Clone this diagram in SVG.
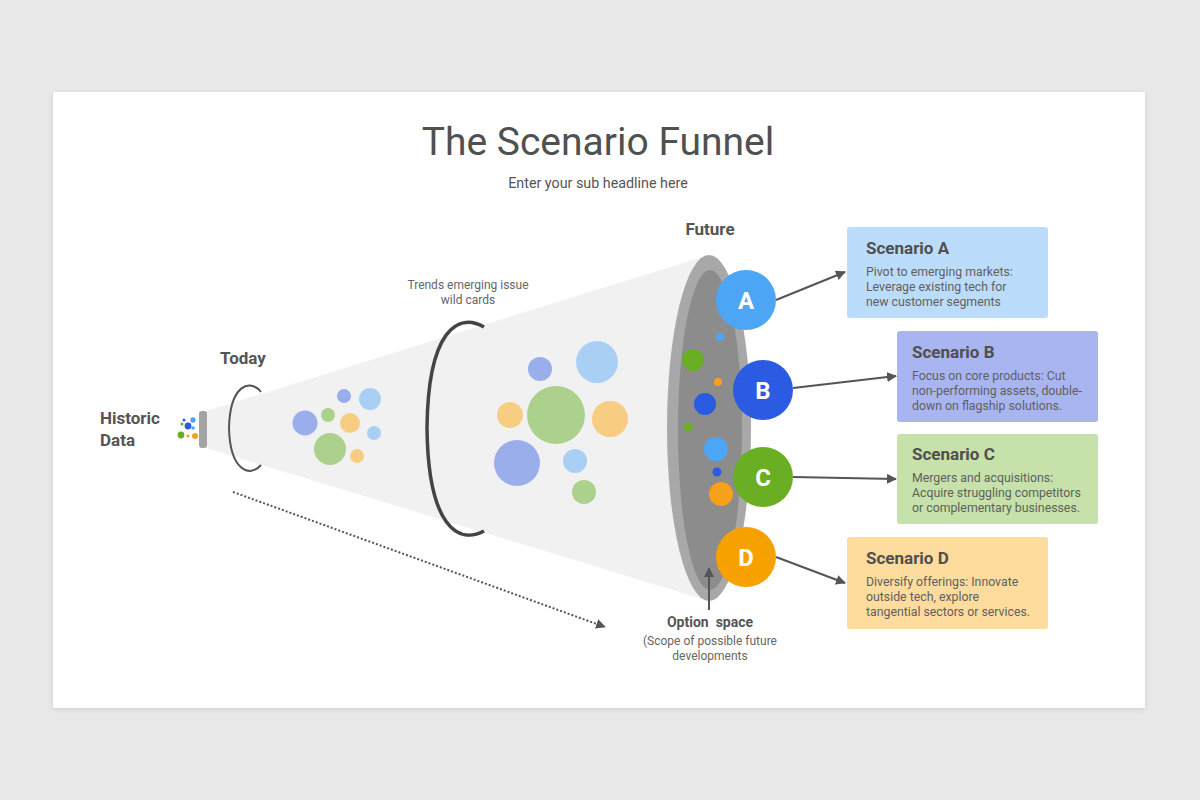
<svg xmlns="http://www.w3.org/2000/svg" width="1200" height="800" viewBox="0 0 1200 800">
  <defs>
    <style>
      text { font-family: Roboto, "Liberation Sans", sans-serif; }
      .title { font-size: 39px; fill: #505050; }
      .sub { font-size: 14.3px; fill: #555; }
      .lbl { font-size: 17px; font-weight: bold; fill: #555; }
      .small { font-size: 12px; fill: #666; }
      .stitle { font-size: 17px; font-weight: bold; fill: #4f4f4f; }
      .sdesc { font-size: 12.3px; fill: #5f5f5f; }
      .letter { font-size: 24px; font-weight: bold; fill: #fff; }
      .conn { stroke: #555; stroke-width: 2; fill: none; }
    </style>
    <marker id="arr" viewBox="0 0 10 10" refX="9" refY="5" markerWidth="5" markerHeight="5" orient="auto">
      <path d="M0,0 L10,5 L0,10 z" fill="#555"/>
    </marker>
    <filter id="sh" x="-5%" y="-5%" width="110%" height="110%">
      <feDropShadow dx="0" dy="1" stdDeviation="2" flood-color="#000" flood-opacity="0.12"/>
    </filter>
  </defs>

  <rect width="1200" height="800" fill="#e9e8e9"/>
  <rect x="53" y="92" width="1092" height="616" fill="#ffffff" filter="url(#sh)"/>

  <g id="header">
    <text class="title" x="598" y="155" text-anchor="middle">The Scenario Funnel</text>
    <text class="sub" x="598" y="188" text-anchor="middle">Enter your sub headline here</text>
  </g>

  <g id="funnel">
    <polygon points="203,412 709,255 709,601 203,447" fill="#f1f1f1"/>
    <rect x="199" y="411" width="8" height="37" rx="3" fill="#a3a3a3"/>
    <ellipse cx="709" cy="428" rx="42" ry="173" fill="#a8a8a8"/>
    <ellipse cx="710" cy="430" rx="32" ry="160" fill="#8c8c8c"/>
  </g>

  <g id="historic">
    <text class="lbl" x="100" y="424">Historic</text>
    <text class="lbl" x="100" y="446">Data</text>
    <circle cx="193" cy="420" r="2.7" fill="#4da6f5"/>
    <circle cx="188" cy="426" r="3.4" fill="#2a5be2"/>
    <circle cx="184" cy="420" r="1.5" fill="#2a5be2"/>
    <circle cx="182" cy="424" r="1.5" fill="#6aae23"/>
    <circle cx="193" cy="428" r="1.8" fill="#4da6f5"/>
    <circle cx="181" cy="435" r="3.4" fill="#6aae23"/>
    <circle cx="188" cy="436" r="1.6" fill="#f7a11a"/>
    <circle cx="195" cy="436" r="3" fill="#f7a11a"/>
  </g>

  <g id="today">
    <text class="lbl" x="243" y="364" text-anchor="middle" font-size="17.5">Today</text>
    <path d="M261,392 C250,378 230,385 229,428 C230,471 250,478 261,465" fill="none" stroke="#555" stroke-width="2"/>
    <circle cx="305" cy="423" r="12.5" fill="#99aeea"/>
    <circle cx="328" cy="415" r="7" fill="#abd18d"/>
    <circle cx="344" cy="396" r="7" fill="#99aeea"/>
    <circle cx="370" cy="399" r="11" fill="#a9cff5"/>
    <circle cx="350" cy="423" r="10" fill="#f7cd82"/>
    <circle cx="374" cy="433" r="7" fill="#a9cff5"/>
    <circle cx="330" cy="449" r="16" fill="#abd18d"/>
    <circle cx="357" cy="456" r="7" fill="#f7cd82"/>
  </g>

  <g id="trends">
    <text class="small" x="468" y="289" text-anchor="middle">Trends emerging issue</text>
    <text class="small" x="468" y="304" text-anchor="middle">wild cards</text>
    <path d="M484,327 C458,312 428,330 427,428 C428,526 458,545 484,531" fill="none" stroke="#444" stroke-width="3.5"/>
    <circle cx="540" cy="369" r="12" fill="#99aeea"/>
    <circle cx="597" cy="362" r="21" fill="#a9cff5"/>
    <circle cx="510" cy="415" r="13" fill="#f7cd82"/>
    <circle cx="556" cy="415" r="29" fill="#abd18d"/>
    <circle cx="610" cy="419" r="18" fill="#f7cd82"/>
    <circle cx="517" cy="463" r="23" fill="#99aeea"/>
    <circle cx="575" cy="461" r="12" fill="#a9cff5"/>
    <circle cx="584" cy="492" r="12" fill="#abd18d"/>
  </g>

  <g id="future-dots">
    <circle cx="720" cy="337" r="4" fill="#4da6f5"/>
    <circle cx="693" cy="360" r="11" fill="#6aae23"/>
    <circle cx="718" cy="382" r="4" fill="#f7a11a"/>
    <circle cx="705" cy="404" r="11" fill="#2a5be2"/>
    <circle cx="688" cy="427" r="4.5" fill="#6aae23"/>
    <circle cx="716" cy="449" r="12" fill="#4da6f5"/>
    <circle cx="717" cy="472" r="4.5" fill="#2a5be2"/>
    <circle cx="721" cy="494" r="12" fill="#f7a11a"/>
  </g>

  <g id="future-label">
    <text class="lbl" x="710" y="235" text-anchor="middle">Future</text>
  </g>

  <g id="option-space">
    <text x="710" y="627" text-anchor="middle" font-size="14" font-weight="bold" fill="#555" xml:space="preserve">Option  space</text>
    <text class="small" x="710" y="645" text-anchor="middle" fill="#777">(Scope of possible future</text>
    <text class="small" x="710" y="660" text-anchor="middle" fill="#777">developments</text>
  </g>

  <g id="connectors">
    <line class="conn" x1="233" y1="492" x2="605" y2="627" stroke-dasharray="2 2" marker-end="url(#arr)"/>
    <line class="conn" x1="709" y1="610" x2="709" y2="568" marker-end="url(#arr)"/>
    <line class="conn" x1="776" y1="300" x2="845" y2="272" marker-end="url(#arr)"/>
    <line class="conn" x1="793" y1="388" x2="896" y2="376" marker-end="url(#arr)"/>
    <line class="conn" x1="793" y1="477" x2="896" y2="479" marker-end="url(#arr)"/>
    <line class="conn" x1="776" y1="557" x2="845" y2="583" marker-end="url(#arr)"/>
  </g>

  <g id="circle-A">
    <circle cx="746" cy="300" r="30" fill="#4da6f5"/>
    <text class="letter" x="746" y="309" text-anchor="middle">A</text>
  </g>
  <g id="circle-B">
    <circle cx="763" cy="390" r="30" fill="#2a5be2"/>
    <text class="letter" x="763" y="399" text-anchor="middle">B</text>
  </g>
  <g id="circle-C">
    <circle cx="763" cy="477" r="30" fill="#6aae23"/>
    <text class="letter" x="763" y="486" text-anchor="middle">C</text>
  </g>
  <g id="circle-D">
    <circle cx="746" cy="557" r="30" fill="#f7a100"/>
    <text class="letter" x="746" y="566" text-anchor="middle">D</text>
  </g>

  <g id="scenario-A">
    <rect x="847" y="227" width="201" height="91" rx="3" fill="#bcdcfb"/>
    <text class="stitle" x="866" y="254">Scenario A</text>
    <text class="sdesc" x="866" y="276">Pivot to emerging markets:</text>
    <text class="sdesc" x="866" y="291">Leverage existing tech for</text>
    <text class="sdesc" x="866" y="306">new customer segments</text>
  </g>
  <g id="scenario-B">
    <rect x="897" y="331" width="201" height="91" rx="3" fill="#a9b5f1"/>
    <text class="stitle" x="912" y="358">Scenario B</text>
    <text class="sdesc" x="912" y="380">Focus on core products: Cut</text>
    <text class="sdesc" x="912" y="395">non-performing assets, double-</text>
    <text class="sdesc" x="912" y="410">down on flagship solutions.</text>
  </g>
  <g id="scenario-C">
    <rect x="897" y="434" width="201" height="90" rx="3" fill="#c6e1a9"/>
    <text class="stitle" x="912" y="460">Scenario C</text>
    <text class="sdesc" x="912" y="482">Mergers and acquisitions:</text>
    <text class="sdesc" x="912" y="497">Acquire struggling competitors</text>
    <text class="sdesc" x="912" y="512">or complementary businesses.</text>
  </g>
  <g id="scenario-D">
    <rect x="847" y="537" width="201" height="92" rx="3" fill="#fddc9d"/>
    <text class="stitle" x="866" y="564">Scenario D</text>
    <text class="sdesc" x="866" y="586">Diversify offerings: Innovate</text>
    <text class="sdesc" x="866" y="601">outside tech, explore</text>
    <text class="sdesc" x="866" y="616">tangential sectors or services.</text>
  </g>
</svg>
